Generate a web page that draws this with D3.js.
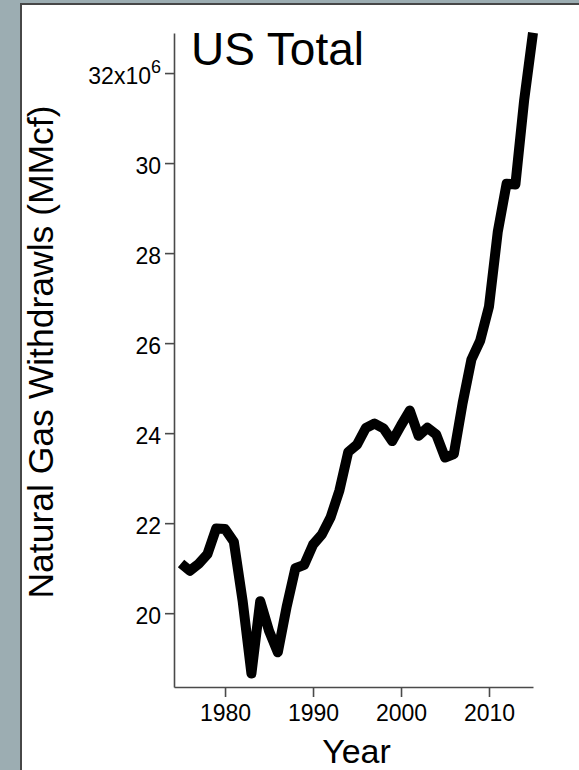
<!DOCTYPE html>
<html>
<head>
<meta charset="utf-8">
<script src="https://cdn.jsdelivr.net/npm/d3@7/dist/d3.min.js"></script>
<style>
  html, body { margin: 0; padding: 0; background: #9cadb2; }
  svg { display: block; }
  text { font-family: "Liberation Sans", Arial, Helvetica, sans-serif; fill: #000; }
</style>
</head>
<body>
<svg id="chart" width="579" height="770"></svg>
<script>
// Annual US natural gas gross withdrawals, MMcf
const years = [1975, 1976, 1977, 1978, 1979, 1980, 1981, 1982, 1983, 1984,
               1985, 1986, 1987, 1988, 1989, 1990, 1991, 1992, 1993, 1994,
               1995, 1996, 1997, 1998, 1999, 2000, 2001, 2002, 2003, 2004,
               2005, 2006, 2007, 2008, 2009, 2010, 2011, 2012, 2013, 2014, 2015];
const withdrawals = [21104000, 20943000, 21097000, 21310000, 21883000, 21870000, 21587000, 20272000, 18659000, 20267000,
                     19607000, 19131000, 20140000, 20999000, 21074000, 21523000, 21750000, 22132000, 22726000, 23581000,
                     23744000, 24114000, 24213000, 24108000, 23823000, 24174000, 24501000, 23941000, 24119000, 23970000,
                     23457000, 23535000, 24664000, 25636000, 26057000, 26816000, 28479000, 29542000, 29523000, 31405000, 32895000];
const yearTicks = [1980, 1990, 2000, 2010];
const valueTicks = [20e6, 22e6, 24e6, 26e6, 28e6, 30e6, 32e6];

const title = "US Total";
const xTitle = "Year";
const yTitle = "Natural Gas Withdrawls (MMcf)";

const data = years.map((yr, i) => ({ year: yr, value: withdrawals[i] }));

const svg = d3.select("#chart");

// white plotting panel with a dark edge
svg.append("rect")
  .attr("x", 21).attr("y", 4)
  .attr("width", 600).attr("height", 800)
  .attr("fill", "#fff")
  .attr("stroke", "#474747")
  .attr("stroke-width", 2);

const x = d3.scaleLinear().domain([1974.2, 2015]).range([174, 533]);
const y = d3.scaleLinear().domain([18.36e6, 32.89e6]).range([687, 33]);

const axisColor = "#4a4a4a";

// x axis
const gx = svg.append("g").attr("transform", `translate(0,${y.range()[0]})`)
  .call(d3.axisBottom(x).tickValues(yearTicks).tickFormat(d3.format("d"))
    .tickSizeInner(10).tickSizeOuter(0).tickPadding(8));
gx.select(".domain").attr("stroke", axisColor).attr("stroke-width", 1.6);
gx.selectAll(".tick line").attr("stroke", axisColor).attr("stroke-width", 1.6);
gx.selectAll(".tick text").attr("font-size", 23).attr("font-family", "Liberation Sans, Arial, sans-serif");

// y axis
const gy = svg.append("g").attr("transform", `translate(${x.range()[0]},0)`)
  .call(d3.axisLeft(y).tickValues(valueTicks).tickFormat(d => d3.format("d")(d / 1e6))
    .tickSizeInner(9).tickSizeOuter(0).tickPadding(4));
gy.select(".domain").attr("stroke", axisColor).attr("stroke-width", 1.6);
gy.selectAll(".tick line").attr("stroke", axisColor).attr("stroke-width", 1.6);
gy.selectAll(".tick text")
  .attr("font-size", 23)
  .attr("font-family", "Liberation Sans, Arial, sans-serif")
  .attr("dy", "0.45em");

// top tick carries the scale factor: 32x10^6
gy.selectAll(".tick text").filter(d => d === valueTicks[valueTicks.length - 1])
  .each(function(d) {
    const t = d3.select(this);
    t.text(null);
    t.append("tspan").text(d3.format("d")(d / 1e6) + "x10");
    t.append("tspan").attr("dy", "-0.6em").attr("font-size", 18).text("6");
  });

// series line
svg.append("path")
  .datum(data)
  .attr("fill", "none")
  .attr("stroke", "#000")
  .attr("stroke-width", 10)
  .attr("stroke-linejoin", "round")
  .attr("stroke-linecap", "butt")
  .attr("d", d3.line().x(d => x(d.year)).y(d => y(d.value)));

// titles
svg.append("text")
  .attr("x", 191).attr("y", 65)
  .attr("font-size", 46)
  .text(title);

svg.append("text")
  .attr("x", (x.range()[0] + x.range()[1]) / 2 + 3)
  .attr("y", 763)
  .attr("text-anchor", "middle")
  .attr("font-size", 34)
  .text(xTitle);

svg.append("text")
  .attr("transform", "translate(53,352) rotate(-90)")
  .attr("text-anchor", "middle")
  .attr("font-size", 35.5)
  .text(yTitle);
</script>
</body>
</html>
